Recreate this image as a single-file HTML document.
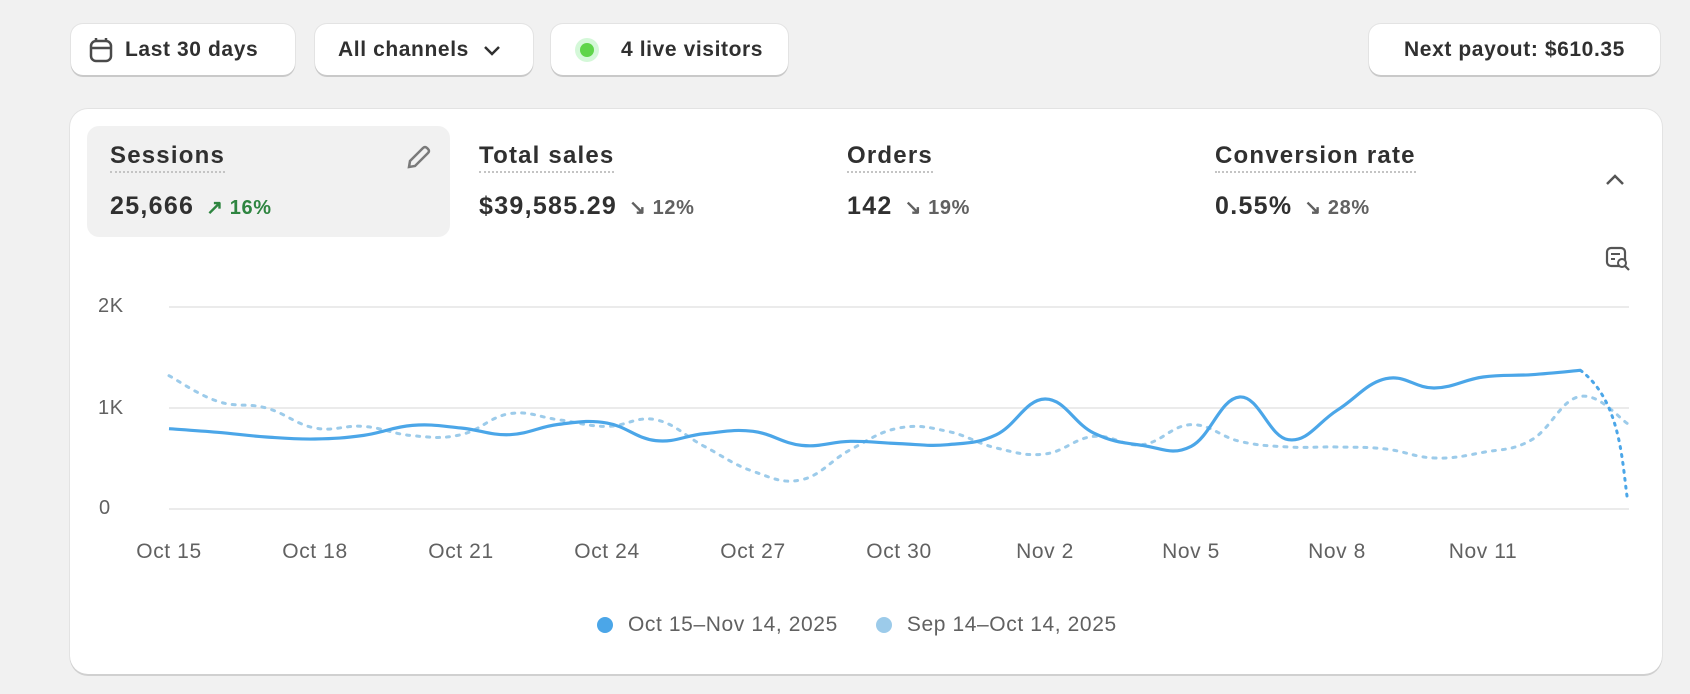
<!DOCTYPE html>
<html><head><meta charset="utf-8"><style>
*{box-sizing:border-box;margin:0;padding:0}
body{width:1690px;height:694px;background:#f1f1f1;font-family:"Liberation Sans",sans-serif;color:#303030;position:relative;overflow:hidden;letter-spacing:0.6px}
.btn{position:absolute;top:24px;height:51px;background:#fff;border-radius:12px;box-shadow:0 2px 0 #c9c9c9,0 0 0 1px #e3e3e3;font-size:21px;font-weight:bold;display:flex;align-items:center;color:#303030}
.card{position:absolute;left:70px;top:109px;width:1592px;height:565px;background:#fff;border-radius:18px;box-shadow:0 2px 0 #d0d0d0,0 0 0 1px #e3e3e3}
.abs{position:absolute}
.t{font-size:24px;font-weight:bold;border-bottom:2px dotted #c4c4c4;padding-bottom:2px;letter-spacing:1.2px}
.v{font-size:25px;font-weight:bold;letter-spacing:1.3px}
.d{font-size:20px;font-weight:bold;color:#616161;margin-left:12px}
.xl{position:absolute;top:540px;font-size:21px;color:#616161;transform:translateX(-50%)}
.yl{position:absolute;left:98px;font-size:20px;color:#616161}
</style></head><body>
<div class="btn" style="left:71px;width:224px;padding-left:18px"><svg width="24" height="26" viewBox="0 0 24 26" style="margin-right:12px"><rect x="2" y="4" width="20" height="20" rx="5" fill="none" stroke="#4a4a4a" stroke-width="2.5"/><line x1="2" y1="11" x2="22" y2="11" stroke="#4a4a4a" stroke-width="2.5"/><line x1="7" y1="1" x2="7" y2="5" stroke="#4a4a4a" stroke-width="2.5"/><line x1="17" y1="1" x2="17" y2="5" stroke="#4a4a4a" stroke-width="2.5"/></svg>Last 30 days</div>
<div class="btn" style="left:315px;width:218px;padding-left:23px">All channels<svg width="18" height="12" style="margin-left:14px"><path d="M2 3 L9 10 L16 3" fill="none" stroke="#303030" stroke-width="2.5"/></svg></div>
<div class="btn" style="left:551px;width:237px;padding-left:24px"><span style="width:24px;height:24px;border-radius:50%;background:#d4f8d8;display:inline-flex;align-items:center;justify-content:center;margin-right:22px"><span style="width:14px;height:14px;border-radius:50%;background:#5fd54a"></span></span>4 live visitors</div>
<div class="btn" style="left:1369px;width:291px;justify-content:center">Next payout: $610.35</div>
<div class="card"></div>
<div class="abs" style="left:87px;top:126px;width:363px;height:111px;background:#f1f1f1;border-radius:12px"></div>
<svg class="abs" style="left:404px;top:144px" width="28" height="28" viewBox="0 0 28 28"><path d="M5 23 L6 17 L19 4 Q21 2 23 4 L24 5 Q26 7 24 9 L11 22 Z" fill="none" stroke="#7a7a7a" stroke-width="2.5"/></svg>
<div class="abs" style="left:110px;top:142px"><span class="t">Sessions</span></div>
<div class="abs" style="left:110px;top:192px"><span class="v">25,666</span><span class="d" style="color:#2e8540">↗ 16%</span></div>
<div class="abs" style="left:479px;top:142px"><span class="t">Total sales</span></div>
<div class="abs" style="left:479px;top:192px"><span class="v">$39,585.29</span><span class="d">↘ 12%</span></div>
<div class="abs" style="left:847px;top:142px"><span class="t">Orders</span></div>
<div class="abs" style="left:847px;top:192px"><span class="v">142</span><span class="d">↘ 19%</span></div>
<div class="abs" style="left:1215px;top:142px"><span class="t">Conversion rate</span></div>
<div class="abs" style="left:1215px;top:192px"><span class="v">0.55%</span><span class="d">↘ 28%</span></div>
<svg class="abs" style="left:1604px;top:172px" width="22" height="16"><path d="M3 12 L11 4 L19 12" fill="none" stroke="#555" stroke-width="2.5"/></svg>
<svg class="abs" style="left:1605px;top:246px" width="26" height="26"><rect x="2" y="2" width="18" height="18" rx="4" fill="none" stroke="#555" stroke-width="2.2"/><line x1="6" y1="8" x2="15" y2="8" stroke="#555" stroke-width="2"/><line x1="6" y1="13" x2="10" y2="13" stroke="#555" stroke-width="2"/><circle cx="17" cy="17" r="4" fill="#fff" stroke="#555" stroke-width="2"/><line x1="20" y1="20" x2="24" y2="24" stroke="#555" stroke-width="2.2"/></svg>
<div class="yl" style="top:295px">2K</div>
<div class="yl" style="top:397px">1K</div>
<div class="yl" style="top:497px;left:99px">0</div>
<svg class="abs" style="left:0;top:0" width="1690" height="694" id="ch">
<line x1="169" y1="307" x2="1629" y2="307" stroke="#ebebeb" stroke-width="2"/>
<line x1="169" y1="408" x2="1629" y2="408" stroke="#ebebeb" stroke-width="2"/>
<line x1="169" y1="509" x2="1629" y2="509" stroke="#ebebeb" stroke-width="2"/>
<path id="prev" fill="none" stroke="#9ccbea" stroke-width="3" stroke-dasharray="3 7" stroke-linecap="round"/>
<path id="cur" fill="none" stroke="#4ba6e8" stroke-width="3.2" stroke-linejoin="round"/>
<path id="curd" fill="none" stroke="#4ba6e8" stroke-width="3" stroke-dasharray="2 6" stroke-linecap="round"/>
</svg>
<div class="xl" style="left:169px">Oct 15</div>
<div class="xl" style="left:315px">Oct 18</div>
<div class="xl" style="left:461px">Oct 21</div>
<div class="xl" style="left:607px">Oct 24</div>
<div class="xl" style="left:753px">Oct 27</div>
<div class="xl" style="left:899px">Oct 30</div>
<div class="xl" style="left:1045px">Nov 2</div>
<div class="xl" style="left:1191px">Nov 5</div>
<div class="xl" style="left:1337px">Nov 8</div>
<div class="xl" style="left:1483px">Nov 11</div>
<div class="abs" style="left:597px;top:613px;font-size:21px;color:#616161;display:flex;align-items:center"><span style="width:16px;height:16px;border-radius:50%;background:#4ba6e8;margin-right:15px"></span>Oct 15–Nov 14, 2025<span style="width:16px;height:16px;border-radius:50%;background:#9ccbea;margin:0 15px 0 38px"></span>Sep 14–Oct 14, 2025</div>
<script>
var cur=[795,759,713,693,729,828,802,736,838,851,677,746,769,630,670,647,637,736,1089,752,630,620,1109,686,977,1290,1198,1307,1330,1373];
var prev=[1320,1066,1000,802,818,726,736,944,884,818,884,620,373,290,587,802,769,604,545,719,637,835,670,614,614,594,505,561,686,1115,835];
function P(a){return a.map(function(v,i){return [169+48.67*i,509-v*0.101];});}
function path(p){var d="M"+p[0][0]+" "+p[0][1];for(var i=0;i<p.length-1;i++){var p0=p[i-1]||p[i],p1=p[i],p2=p[i+1],p3=p[i+2]||p2;var t=0.2;d+=" C"+(p1[0]+(p2[0]-p0[0])*t)+" "+(p1[1]+(p2[1]-p0[1])*t)+" "+(p2[0]-(p3[0]-p1[0])*t)+" "+(p2[1]-(p3[1]-p1[1])*t)+" "+p2[0]+" "+p2[1];}return d;}
document.getElementById("cur").setAttribute("d",path(P(cur)));
document.getElementById("prev").setAttribute("d",path(P(prev)));
var a=P(cur)[29];document.getElementById("curd").setAttribute("d","M"+a[0]+" "+a[1]+" C1620 400 1622 460 1627 496");
</script>
</body></html>
